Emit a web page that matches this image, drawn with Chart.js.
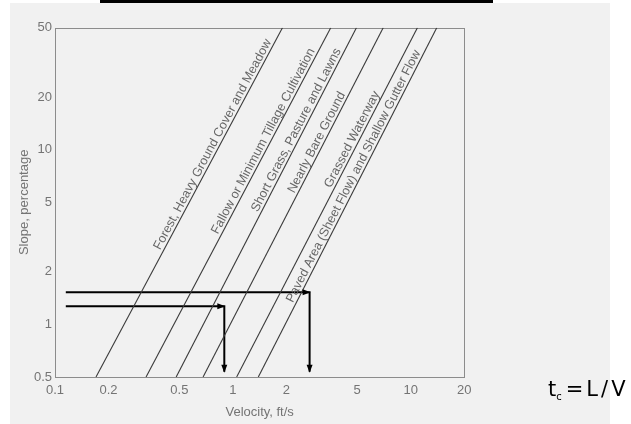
<!DOCTYPE html>
<html>
<head>
<script src="https://cdn.jsdelivr.net/npm/chart.js@4.4.0/dist/chart.umd.min.js"></script>
<style>
  html, body { margin: 0; padding: 0; background: #fff; width: 631px; height: 424px; overflow: hidden; }
  #scan { position: absolute; left: 10px; top: 3px; width: 600px; height: 421px; background: #f1f1f1; }
  #bar { position: absolute; left: 100px; top: 0; width: 393px; height: 3px; background: #000; }
  #wrap { position: absolute; left: 0; top: 0; width: 631px; height: 424px; }
  #eq { position: absolute; left: 548px; top: 377px; font-family: "DejaVu Sans", sans-serif; font-size: 21px; color: #000; white-space: nowrap; }
  #eq span { margin-right: 3px; }
  #eq sub { font-size: 10px; vertical-align: -4px; margin-right: 4px; }
</style>
</head>
<body>
<div id="scan"></div>
<div id="bar"></div>
<div id="wrap"><canvas id="myChart" width="631" height="424"></canvas></div>
<div id="eq">t<sub>c</sub><span>=</span><span>L</span><span>/</span>V</div>
<script>
  // land surfaces, velocity (ft/s) read at slope 0.5 % and at 50 %
  var surfaces = [
    "Forest, Heavy Ground Cover and Meadow",
    "Fallow or Minimum Tillage Cultivation",
    "Short Grass, Pasture and Lawns",
    "Nearly Bare Ground",
    "Grassed Waterway",
    "Paved Area (Sheet Flow) and Shallow Gutter Flow",
  ];
  var slopeEnds = [0.5, 50];
  var velLow = [0.17, 0.325, 0.48, 0.68, 1.05, 1.39];
  var velHigh = [1.9, 3.55, 4.95, 7.0, 10.9, 14.0];
  // slope where each label starts along its line
  var labelStart = [2.6, 3.2, 4.3, 5.5, 5.9, 1.3];

  var xTicks = [0.1, 0.2, 0.5, 1, 2, 5, 10, 20];
  var yTicks = [0.5, 1, 2, 5, 10, 20, 50];

  // the two worked examples (velocity, slope)
  var arrowAVel = [0.115, 2.7, 2.7];
  var arrowASlope = [1.53, 1.53, 0.536];
  var arrowBVel = [0.115, 0.895, 0.895];
  var arrowBSlope = [1.27, 1.27, 0.536];

  var grey = "#747474";
  var font = { family: "'Liberation Sans', Arial, sans-serif", size: 13 };

  var datasets = [];
  for (let i = 0; i < surfaces.length; i++) {
    datasets.push({
      label: surfaces[i],
      data: [
        { x: velLow[i], y: slopeEnds[0] },
        { x: velHigh[i], y: slopeEnds[1] },
      ],
      borderColor: "#3a3a3a",
      borderWidth: 1.1,
      pointRadius: 0,
      startLabel: labelStart[i],
    });
  }
  function arrowSet(vel, slope) {
    return {
      label: "arrow",
      arrow: true,
      data: vel.map((v, k) => ({ x: v, y: slope[k] })),
      borderColor: "#000",
      borderWidth: 2,
      pointRadius: 0,
    };
  }
  datasets.push(arrowSet(arrowAVel, arrowASlope));
  datasets.push(arrowSet(arrowBVel, arrowBSlope));

  var framePlugin = {
    id: "frame",
    beforeDatasetsDraw(chart) {
      const a = chart.chartArea;
      const ctx = chart.ctx;
      ctx.save();
      ctx.strokeStyle = "#8c8c8c";
      ctx.lineWidth = 1;
      ctx.strokeRect(Math.round(a.left) + 0.5, Math.round(a.top) + 0.5, Math.round(a.right - a.left), Math.round(a.bottom - a.top));
      ctx.restore();
    },
  };

  var extrasPlugin = {
    id: "extras",
    afterDatasetsDraw(chart) {
      const ctx = chart.ctx;
      const ys = chart.scales.y;
      ctx.save();
      chart.data.datasets.forEach((ds, i) => {
        const pts = chart.getDatasetMeta(i).data;
        if (ds.arrow) {
          ctx.fillStyle = "#000";
          for (let k = 1; k < pts.length; k++) {
            const p0 = pts[k - 1], p1 = pts[k];
            const ang = Math.atan2(p1.y - p0.y, p1.x - p0.x);
            ctx.save();
            ctx.translate(p1.x, p1.y);
            ctx.rotate(ang);
            ctx.beginPath();
            ctx.moveTo(1, 0);
            ctx.lineTo(-7, -3);
            ctx.lineTo(-7, 3);
            ctx.closePath();
            ctx.fill();
            ctx.restore();
          }
        } else if (ds.startLabel) {
          const p0 = pts[0], p1 = pts[1];
          const ang = Math.atan2(p1.y - p0.y, p1.x - p0.x);
          const yy = ys.getPixelForValue(ds.startLabel);
          const t = (yy - p0.y) / (p1.y - p0.y);
          const xx = p0.x + t * (p1.x - p0.x);
          ctx.save();
          ctx.translate(xx, yy);
          ctx.rotate(ang);
          ctx.font = "12.6px 'Liberation Sans', Arial, sans-serif";
          ctx.fillStyle = "#666";
          ctx.textBaseline = "alphabetic";
          ctx.fillText(ds.label, 0, -3);
          ctx.restore();
        }
      });
      ctx.restore();
    },
  };

  new Chart("myChart", {
    type: "line",
    data: { datasets: datasets },
    plugins: [framePlugin, extrasPlugin],
    options: {
      responsive: false,
      animation: false,
      devicePixelRatio: 1,
      layout: { padding: { left: 0, top: 27.7, right: 166.7, bottom: 0 } },
      plugins: { legend: { display: false }, tooltip: { enabled: false } },
      scales: {
        x: {
          type: "logarithmic",
          position: "bottom",
          min: 0.1,
          max: 20,
          afterBuildTicks: (s) => { s.ticks = xTicks.map((v) => ({ value: v })); },
          afterFit: (s) => { s.height = 47; },
          grid: { display: false, drawTicks: false },
          border: { display: false },
          ticks: { autoSkip: false, maxRotation: 0, padding: 5.5, color: grey, font: font, callback: (v) => String(v) },
          title: { display: true, text: "Velocity, ft/s", color: grey, font: font, padding: { top: 0, bottom: 3.5 } },
        },
        y: {
          type: "logarithmic",
          position: "left",
          min: 0.5,
          max: 50,
          afterBuildTicks: (s) => { s.ticks = yTicks.map((v) => ({ value: v })); },
          afterFit: (s) => { s.width = 55; },
          grid: { display: false, drawTicks: false },
          border: { display: false },
          ticks: { autoSkip: false, padding: 3, color: grey, font: font, callback: (v) => String(v) },
          title: { display: true, text: "Slope, percentage", color: grey, font: font, padding: { top: 16.2, bottom: 0 } },
        },
      },
    },
  });
</script>
</body>
</html>
